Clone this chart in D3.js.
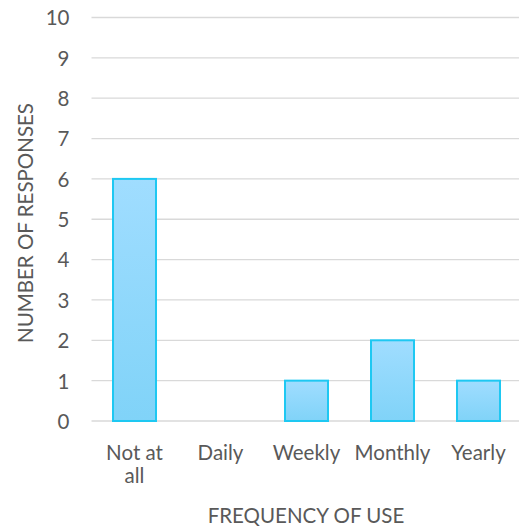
<!DOCTYPE html>
<html>
<head>
<meta charset="utf-8">
<script src="https://cdn.jsdelivr.net/npm/d3@7"></script>
<style>
  html, body { margin: 0; padding: 0; background: #fff; }
  svg { display: block; }
  text { font-family: Lato, "Open Sans", "Liberation Sans", sans-serif; fill: #595959; }
</style>
</head>
<body>
<svg id="chart" width="519" height="529"></svg>
<script>
// Survey responses by frequency of use
const categories = ["Not at all", "Daily", "Weekly", "Monthly", "Yearly"];
const responses = [6, 0, 1, 2, 1];
const yTicks = [0, 1, 2, 3, 4, 5, 6, 7, 8, 9, 10];
const xTitle = "FREQUENCY OF USE";
const yTitle = "NUMBER OF RESPONSES";

const svg = d3.select("#chart");
const plotLeft = 91.5, plotRight = 521.5, plotTop = 17.5, plotBottom = 421;
const fontSize = "20.5px";

const x = d3.scaleBand().domain(categories).range([plotLeft, plotRight]).paddingInner(0.5).paddingOuter(0.25);
const y = d3.scaleLinear().domain([0, 10]).range([plotBottom, plotTop]);

const defs = svg.append("defs");
const grad = defs.append("linearGradient")
  .attr("id", "barFill").attr("x1", 0).attr("y1", 0).attr("x2", 0).attr("y2", 1);
grad.append("stop").attr("offset", "0%").attr("stop-color", "#a0ddff");
grad.append("stop").attr("offset", "100%").attr("stop-color", "#80d3f8");

// Horizontal gridlines
svg.append("g")
  .selectAll("line")
  .data(yTicks)
  .join("line")
  .attr("x1", plotLeft).attr("x2", plotRight)
  .attr("y1", d => y(d)).attr("y2", d => y(d))
  .attr("stroke", "#d9d9d9").attr("stroke-width", 1.3);

// Y tick labels
const yAxis = svg.append("g")
  .attr("transform", `translate(${plotLeft - 22},0)`)
  .call(d3.axisLeft(y).tickValues(yTicks).tickSize(0).tickPadding(0).tickFormat(d3.format("d")));
yAxis.select(".domain").remove();
yAxis.selectAll("text")
  .attr("dy", "0.36em")
  .style("font-size", fontSize).attr("fill", "#595959")
  .style("font-family", "Lato, 'Open Sans', sans-serif");

// Bars
svg.append("g")
  .selectAll("rect")
  .data(categories.map((c, i) => ({ c, v: responses[i] })).filter(d => d.v > 0))
  .join("rect")
  .attr("x", d => x(d.c))
  .attr("y", d => y(d.v))
  .attr("width", x.bandwidth())
  .attr("height", d => y(0) - y(d.v))
  .attr("fill", "url(#barFill)")
  .attr("stroke", "#1ec8f2")
  .attr("stroke-width", 2);

// Category labels (wrapped where the label is too wide for its slot)
const labelLines = { "Not at all": ["Not at", "all"] };
const xl = svg.append("g");
categories.forEach(c => {
  const lines = labelLines[c] || [c];
  const cx = x(c) + x.bandwidth() / 2;
  const t = xl.append("text")
    .attr("x", cx)
    .attr("y", 460)
    .attr("text-anchor", "middle")
    .style("font-size", fontSize);
  lines.forEach((ln, i) => {
    t.append("tspan").attr("x", cx).attr("dy", i === 0 ? 0 : 23).text(ln);
  });
});

// Axis titles
svg.append("text")
  .attr("x", 306).attr("y", 523)
  .attr("text-anchor", "middle")
  .style("font-size", fontSize)
  .text(xTitle);

svg.append("text")
  .attr("transform", "translate(33,223) rotate(-90)")
  .attr("text-anchor", "middle")
  .style("font-size", fontSize)
  .text(yTitle);
</script>
</body>
</html>
